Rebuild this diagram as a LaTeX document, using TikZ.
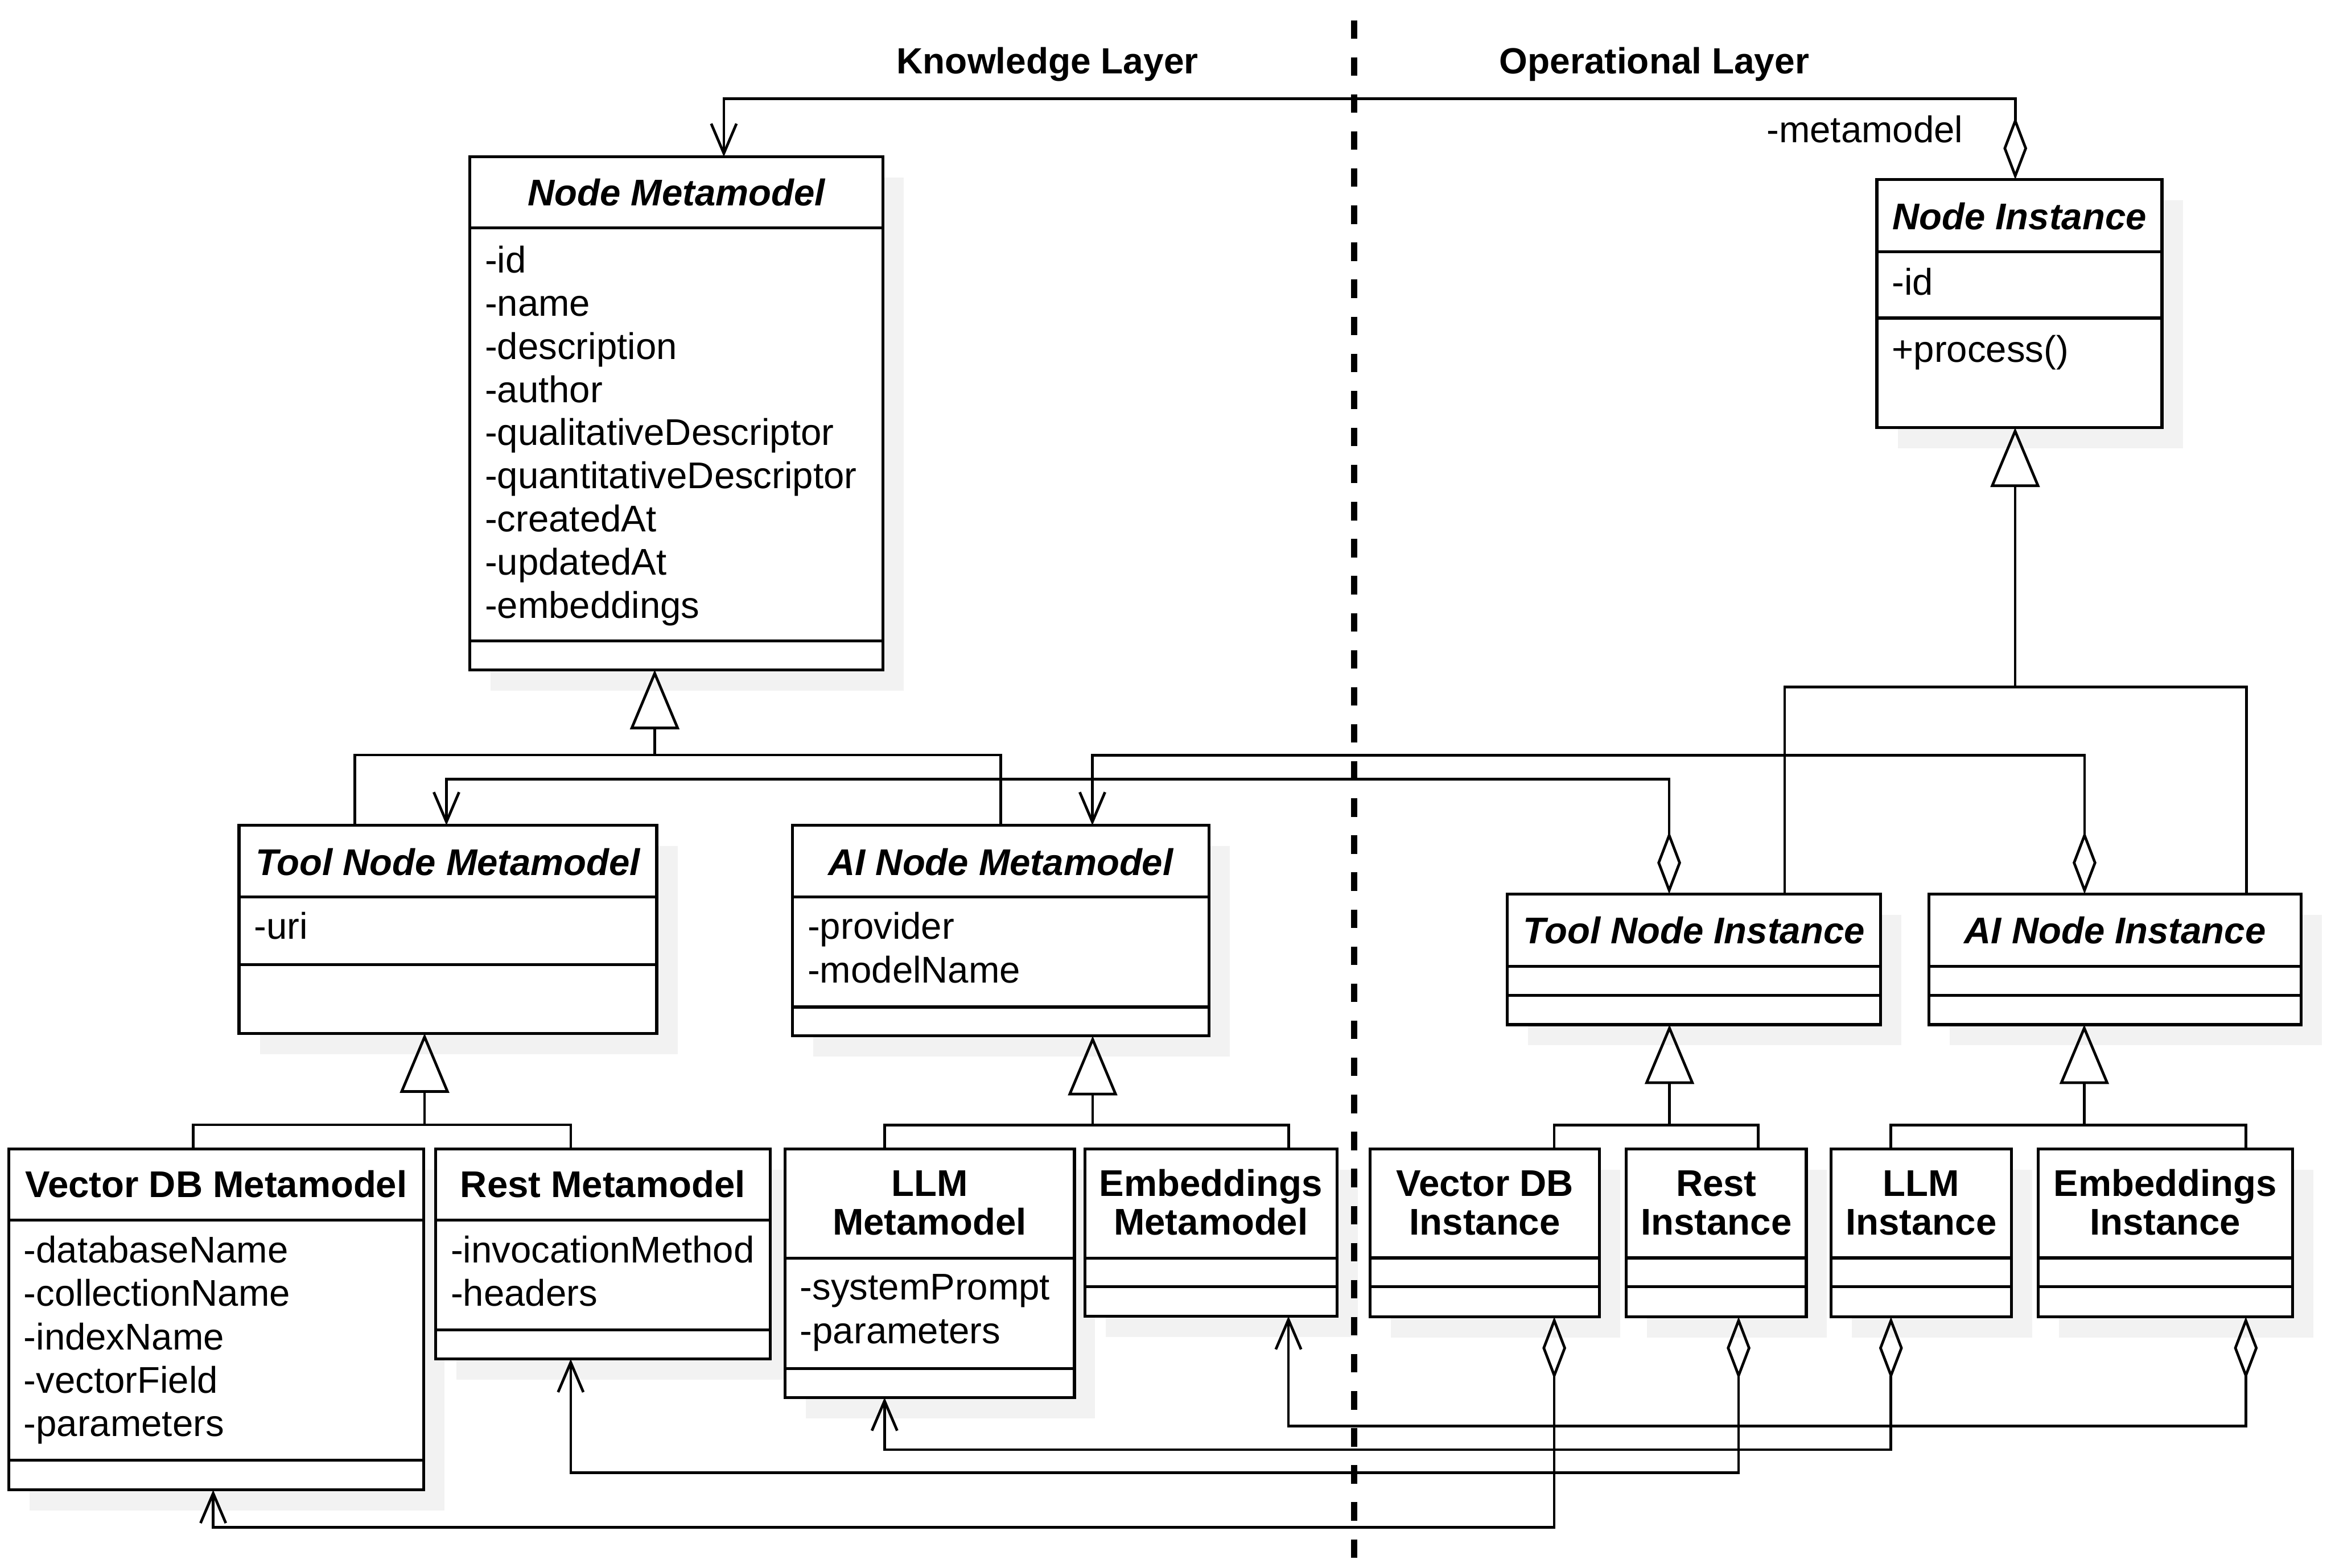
\documentclass[tikz,border=0pt]{standalone}
\usepackage{fontspec}
\setmainfont{Liberation Sans}
\usetikzlibrary{arrows.meta}
\pgfdeclarelayer{bg}
\pgfsetlayers{bg,main}
\definecolor{shadowc}{RGB}{242,242,242}

\tikzset{
  umlrect/.style={draw, rectangle, line width=2pt, fill=white, inner sep=0pt, outer sep=0pt},
  sepline/.style={line width=2pt},
  hdr/.style={anchor=base, inner sep=0pt, font=\fontsize{24.5}{26}\selectfont\bfseries},
  ttl/.style={anchor=base, inner sep=0pt, font=\fontsize{25}{26}\selectfont\bfseries},
  ttli/.style={anchor=base, inner sep=0pt, font=\fontsize{25}{26}\selectfont\bfseries\itshape},
  attr/.style={anchor=base west, inner sep=0pt, font=\fontsize{25}{29}\selectfont},
  lbl/.style={inner sep=0pt, font=\fontsize{25}{29}\selectfont},
  conn/.style={line width=1.8pt},
  gen/.style={conn, {Triangle[open, length=40pt, width=33pt]}-},
  agg/.style={conn, {Diamond[open, length=42pt, width=16pt]}-{Straight Barb[length=20pt, width=17pt]}},
  divider/.style={line width=4.2pt, dash pattern=on 12.4pt off 12.53pt}
}

% name, x1, y1, x2, y2, header bottom, separator
\newcommand{\umlbox}[7]{%
  \begin{pgfonlayer}{bg}
    \fill[shadowc] (#2+14,#3+14) rectangle (#4+14,#5+14);
  \end{pgfonlayer}
  \node[umlrect, minimum width={(#4-#2)*1pt}, minimum height={(#5-#3)*1pt}] (#1) at ({(#2+#4)/2},{(#3+#5)/2}) {};
  \draw[sepline] (#1.west |- 0,#6) -- (#1.east |- 0,#6);
  \draw[sepline] (#1.west |- 0,#7) -- (#1.east |- 0,#7);
}

\begin{document}
\begin{tikzpicture}[x=1pt, y=-1pt]
\useasboundingbox (0,0) rectangle (1568,1055);

% layer titles and divider
\node[hdr] (kl) at (704.6,49.6) {Knowledge Layer};
\node[hdr] (ol) at (1112.8,49.6) {Operational Layer};
\draw[divider] (911,13.6) -- (911,1048);

% classes
\umlbox{nm}{316}{105.5}{594}{450.7}{153.4}{431.3}
\umlbox{ni}{1262.5}{120.8}{1454.3}{287.7}{169.4}{214}
\umlbox{tnm}{160.8}{555.3}{441.8}{695.3}{603.5}{648.9}
\umlbox{anm}{533.1}{555.3}{813.2}{697}{603.5}{677.6}
\umlbox{tni}{1014}{601.5}{1265}{689.4}{650.3}{669.7}
\umlbox{ani}{1297.5}{601.5}{1548}{689.4}{650.3}{669.7}
\umlbox{vdbm}{5.8}{773}{285}{1002.5}{821}{982.6}
\umlbox{restm}{293}{773}{518}{914.4}{821}{894.9}
\umlbox{llmm}{528}{773}{722.7}{940.3}{846.5}{920.7}
\umlbox{embm}{729.7}{773}{899.4}{885.6}{846.5}{865.8}
\umlbox{vdbi}{921.6}{773}{1076}{886}{846.4}{865.7}
\umlbox{resti}{1094}{773}{1215}{886}{846.4}{865.7}
\umlbox{llmi}{1231.7}{773}{1353}{886}{846.4}{865.7}
\umlbox{embi}{1371}{773}{1542}{886}{846.4}{865.7}

% Node Metamodel texts
\node[ttli] (nm-t) at (455,138.5) {Node Metamodel};
\node[attr] (nm-a1) at (326,183.5) {-id};
\node[attr] (nm-a2) at (326,212.55) {-name};
\node[attr] (nm-a3) at (326,241.6) {-description};
\node[attr] (nm-a4) at (326,270.65) {-author};
\node[attr] (nm-a5) at (326,299.7) {-qualitativeDescriptor};
\node[attr] (nm-a6) at (326,328.75) {-quantitativeDescriptor};
\node[attr] (nm-a7) at (326,357.8) {-createdAt};
\node[attr] (nm-a8) at (326,386.85) {-updatedAt};
\node[attr] (nm-a9) at (326,415.9) {-embeddings};

% Node Instance texts
\node[ttli] (ni-t) at (1358.4,154.4) {Node Instance};
\node[attr] (ni-a1) at (1272.5,198.6) {-id};
\node[attr] (ni-m1) at (1272.5,243.6) {+process()};

% Tool / AI Node Metamodel
\node[ttli] (tnm-t) at (301.3,588.8) {Tool Node Metamodel};
\node[attr] (tnm-a1) at (170.8,632) {-uri};
\node[ttli] (anm-t) at (673.15,588.8) {AI Node Metamodel};
\node[attr] (anm-a1) at (543.1,632) {-provider};
\node[attr] (anm-a2) at (543.1,661.3) {-modelName};

% Tool / AI Node Instance
\node[ttli] (tni-t) at (1139.5,634.7) {Tool Node Instance};
\node[ttli] (ani-t) at (1422.75,634.7) {AI Node Instance};

% Vector DB Metamodel
\node[ttl] (vdbm-t) at (145.4,805.6) {Vector DB Metamodel};
\node[attr] (vdbm-a1) at (15.8,849.7) {-databaseName};
\node[attr] (vdbm-a2) at (15.8,878.9) {-collectionName};
\node[attr] (vdbm-a3) at (15.8,908.1) {-indexName};
\node[attr] (vdbm-a4) at (15.8,937.3) {-vectorField};
\node[attr] (vdbm-a5) at (15.8,966.5) {-parameters};

% Rest Metamodel
\node[ttl] (restm-t) at (405.5,805.6) {Rest Metamodel};
\node[attr] (restm-a1) at (303,849.7) {-invocationMethod};
\node[attr] (restm-a2) at (303,878.9) {-headers};

% LLM Metamodel
\node[ttl] (llmm-t1) at (625.35,805) {LLM};
\node[ttl] (llmm-t2) at (625.35,831) {Metamodel};
\node[attr] (llmm-a1) at (538,874.6) {-systemPrompt};
\node[attr] (llmm-a2) at (538,904) {-parameters};

% Embeddings Metamodel
\node[ttl] (embm-t1) at (814.55,805) {Embeddings};
\node[ttl] (embm-t2) at (814.55,831) {Metamodel};

% Instances
\node[ttl] (vdbi-t1) at (998.8,805) {Vector DB};
\node[ttl] (vdbi-t2) at (998.8,831) {Instance};
\node[ttl] (resti-t1) at (1154.5,805) {Rest};
\node[ttl] (resti-t2) at (1154.5,831) {Instance};
\node[ttl] (llmi-t1) at (1292.35,805) {LLM};
\node[ttl] (llmi-t2) at (1292.35,831) {Instance};
\node[ttl] (embi-t1) at (1456.5,805) {Embeddings};
\node[ttl] (embi-t2) at (1456.5,831) {Instance};

% metamodel association
\draw[agg] ([xshift=-2.8pt]ni.north) -- ++(0,-54.3) -| ([xshift=31.9pt]nm.north);
\node[lbl, anchor=base east] (mmlbl) at (1320.6,96) {-metamodel};

% generalizations (knowledge layer)
\draw[gen] ([xshift=-14.6pt]nm.south) -- ++(0,57.3) -| ([xshift=-62.7pt]tnm.north);
\draw[conn] ([xshift=-14.6pt]nm.south) ++(0,57.3) -| (anm.north);
\draw[gen] ([xshift=-15.7pt]tnm.south) -- ++(0,61.5) -| ([xshift=-15.4pt]vdbm.north);
\draw[conn] ([xshift=-15.7pt]tnm.south) ++(0,61.5) -| ([xshift=-21.5pt]restm.north);
\draw[gen] ([xshift=61.85pt]anm.south) -- ++(0,60) -| ([xshift=-30.35pt]llmm.north);
\draw[conn] ([xshift=61.85pt]anm.south) ++(0,60) -| ([xshift=52.45pt]embm.north);

% generalizations (operational layer)
\draw[gen] ([xshift=-2.9pt]ni.south) -- ++(0,174.5) -| ([xshift=61pt]tni.north);
\draw[conn] ([xshift=-2.9pt]ni.south) ++(0,174.5) -| ([xshift=88.25pt]ani.north);
\draw[gen] ([xshift=-16.5pt]tni.south) -- ++(0,67.6) -| ([xshift=46.7pt]vdbi.north);
\draw[conn] ([xshift=-16.5pt]tni.south) ++(0,67.6) -| ([xshift=28.1pt]resti.north);
\draw[gen] ([xshift=-20.75pt]ani.south) -- ++(0,67.6) -| ([xshift=-20.35pt]llmi.north);
\draw[conn] ([xshift=-20.75pt]ani.south) ++(0,67.6) -| ([xshift=54.2pt]embi.north);

% instance -> metamodel aggregations
\draw[agg] ([xshift=-16.7pt]tni.north) -- ++(0,-77.2) -| ([xshift=-1pt]tnm.north);
\draw[agg] ([xshift=-20.55pt]ani.north) -- ++(0,-93.2) -| ([xshift=61.65pt]anm.north);
\draw[agg] ([xshift=46.7pt]vdbi.south) -- ++(0,141.7) -| ([xshift=-2pt]vdbm.south);
\draw[agg] ([xshift=15pt]resti.south) -- ++(0,105) -| ([xshift=-21.6pt]restm.south);
\draw[agg] ([xshift=-20.35pt]llmi.south) -- ++(0,89.4) -| ([xshift=-30.35pt]llmm.south);
\draw[agg] ([xshift=54.2pt]embi.south) -- ++(0,73.5) -| ([xshift=52.15pt]embm.south);
\end{tikzpicture}
\end{document}
